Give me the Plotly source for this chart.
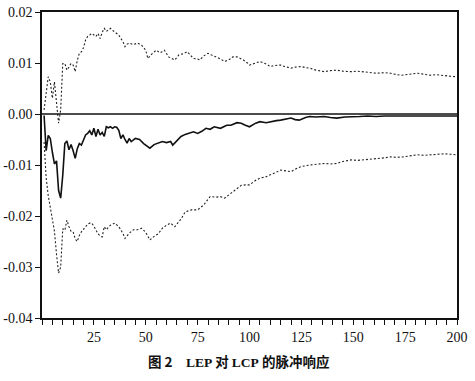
import plotly.graph_objects as go

# ---- data ----
upper_period = [1,2,3,4,5,6,7,8,9,10,11,12,13,14,15,16,17,18,19,20,21,22,23,24,25,26,27,28,29,30,
                31,32,33,34,35,36,37,38,39,40,41,42,44,46,48,50,51,53,55,57,59,61,63,64,66,68,70,72,73,75,
                76,78,80,82,84,86,88,90,92,94,96,97,99,100,103,105,108,110,112,115,117,120,122,125,127,129,
                132,136,139,142,145,149,152,155,158,161,165,168,171,173,177,181,184,187,190,194,197,200]
upper_value = [0.0008,0.0040,0.0073,0.0063,0.0031,0.0063,0.0027,-0.0018,0.0008,0.0099,0.0099,0.0086,0.0092,
               0.0099,0.0096,0.0083,0.0105,0.0119,0.0122,0.0130,0.0145,0.0152,0.0155,0.0158,0.0155,0.0152,
               0.0158,0.0148,0.0160,0.0168,0.0162,0.0165,0.0168,0.0164,0.0161,0.0158,0.0155,0.0148,0.0142,
               0.0132,0.0137,0.0139,0.0136,0.0139,0.0135,0.0125,0.0109,0.0118,0.0125,0.0120,0.0125,0.0112,
               0.0108,0.0106,0.0116,0.0118,0.0122,0.0112,0.0109,0.0108,0.0106,0.0114,0.0119,0.0115,0.0112,
               0.0108,0.0103,0.0106,0.0112,0.0112,0.0108,0.0106,0.0100,0.0096,0.0100,0.0103,0.0098,0.0093,
               0.0095,0.0096,0.0093,0.0090,0.0092,0.0093,0.0091,0.0090,0.0086,0.0083,0.0085,0.0086,0.0084,
               0.0083,0.0084,0.0083,0.0081,0.0080,0.0081,0.0080,0.0077,0.0076,0.0078,0.0080,0.0078,0.0076,
               0.0077,0.0076,0.0074,0.0073]

resp_period = [1,2,3,4,5,6,7,8,9,10,11,12,13,14,15,16,17,18,19,20,21,22,23,24,25,26,27,28,29,30,
               31,32,33,34,35,36,37,38,39,40,41,42,43,45,47,49,51,52,54,56,58,60,62,63,65,67,69,71,73,75,
               77,79,81,83,86,89,91,94,96,98,100,103,105,108,110,113,115,118,120,122,124,127,129,132,136,
               139,142,146,149,153,157,161,165,170,175,180,185,190,195,200]
resp_value = [-0.0003,-0.0072,-0.0042,-0.0048,-0.0075,-0.0098,-0.0092,-0.0150,-0.0165,-0.0120,-0.0058,
              -0.0053,-0.0070,-0.0060,-0.0072,-0.0087,-0.0068,-0.0058,-0.0061,-0.0050,-0.0041,-0.0038,
              -0.0033,-0.0041,-0.0028,-0.0044,-0.0030,-0.0041,-0.0036,-0.0044,-0.0025,-0.0027,-0.0025,
              -0.0028,-0.0025,-0.0026,-0.0032,-0.0048,-0.0041,-0.0050,-0.0057,-0.0048,-0.0054,-0.0048,
              -0.0050,-0.0058,-0.0064,-0.0067,-0.0060,-0.0057,-0.0054,-0.0056,-0.0054,-0.0061,-0.0052,
              -0.0044,-0.0040,-0.0038,-0.0035,-0.0038,-0.0034,-0.0028,-0.0030,-0.0025,-0.0028,-0.0022,
              -0.0022,-0.0017,-0.0018,-0.0022,-0.0025,-0.0018,-0.0015,-0.0017,-0.0015,-0.0013,-0.0012,
              -0.0010,-0.0008,-0.0011,-0.0012,-0.0007,-0.0005,-0.0006,-0.0005,-0.0007,-0.0008,-0.0006,
              -0.0005,-0.0005,-0.0004,-0.0005,-0.0004,-0.0004,-0.0003,-0.0004,-0.0003,-0.0004,-0.0003,
              -0.0004]

lower_period = [1,2,3,4,5,6,7,8,9,10,11,12,13,14,15,16,17,18,19,20,21,22,23,24,25,26,27,28,29,30,
                31,32,33,35,37,39,40,42,44,46,48,50,52,54,56,58,60,62,64,67,69,72,75,78,81,84,86,88,91,93,
                96,98,100,103,105,108,110,113,115,118,120,123,125,129,132,136,139,142,145,149,152,155,158,
                161,165,168,171,174,178,181,184,187,190,194,197,200]
lower_value = [-0.0055,-0.0125,-0.0160,-0.0182,-0.0200,-0.0230,-0.0275,-0.0312,-0.0300,-0.0225,-0.0228,
               -0.0208,-0.0221,-0.0230,-0.0231,-0.0245,-0.0250,-0.0238,-0.0231,-0.0226,-0.0221,-0.0216,
               -0.0214,-0.0214,-0.0220,-0.0227,-0.0235,-0.0239,-0.0241,-0.0221,-0.0227,-0.0222,-0.0218,
               -0.0214,-0.0221,-0.0234,-0.0244,-0.0234,-0.0227,-0.0227,-0.0224,-0.0232,-0.0247,-0.0240,
               -0.0235,-0.0224,-0.0218,-0.0214,-0.0221,-0.0206,-0.0192,-0.0188,-0.0188,-0.0178,-0.0162,
               -0.0163,-0.0162,-0.0165,-0.0156,-0.0150,-0.0140,-0.0139,-0.0139,-0.0130,-0.0126,-0.0123,
               -0.0120,-0.0114,-0.0110,-0.0112,-0.0113,-0.0106,-0.0103,-0.0100,-0.0099,-0.0097,-0.0098,
               -0.0097,-0.0093,-0.0090,-0.0091,-0.0090,-0.0089,-0.0087,-0.0086,-0.0084,-0.0085,-0.0084,
               -0.0082,-0.0080,-0.0081,-0.0080,-0.0079,-0.0078,-0.0079,-0.0080]

x_tick_values = list(range(0, 201, 5))
x_tick_labels = [str(v) if (v % 25 == 0 and v > 0) else "" for v in x_tick_values]
y_tick_values = [0.02, 0.01, 0.0, -0.01, -0.02, -0.03, -0.04]
y_tick_labels = ["0.02", "0.01", "0.00", "-0.01", "-0.02", "-0.03", "-0.04"]
caption = ("<b>图 2</b>\u3000<span style=\"font-family:'Liberation Serif'\"><b>LEP</b></span>"
           " <b>对</b> <span style=\"font-family:'Liberation Serif'\"><b>LCP</b></span> <b>的脉冲响应</b>")

fig = go.Figure()
fig.add_trace(go.Scatter(x=upper_period, y=upper_value, mode="lines",
                         line=dict(color="#222", width=1.1, dash="2px,2px")))
fig.add_trace(go.Scatter(x=lower_period, y=lower_value, mode="lines",
                         line=dict(color="#222", width=1.1, dash="2px,2px")))
fig.add_trace(go.Scatter(x=resp_period, y=resp_value, mode="lines",
                         line=dict(color="#111", width=1.6)))

fig.add_shape(type="line", xref="x", yref="y", x0=0, x1=200, y0=0, y1=0,
              line=dict(color="#111", width=1.6))

fig.update_layout(
    width=475, height=381,
    margin=dict(l=42, r=18, t=12, b=63),
    paper_bgcolor="white", plot_bgcolor="white",
    showlegend=False,
    font=dict(family="Liberation Serif", size=13, color="#111"),
    xaxis=dict(range=[0, 200], tickmode="array", tickvals=x_tick_values, ticktext=x_tick_labels,
               ticks="outside", ticklen=5, tickwidth=1.2, tickcolor="#111", automargin=False,
               showline=True, linecolor="#111", linewidth=1.6, mirror=True,
               showgrid=False, zeroline=False, tickfont=dict(size=14)),
    yaxis=dict(range=[-0.04, 0.02], tickmode="array", tickvals=y_tick_values, ticktext=y_tick_labels,
               ticks="outside", ticklen=5, tickwidth=1.2, tickcolor="#111", automargin=False,
               showline=True, linecolor="#111", linewidth=1.6, mirror=True,
               showgrid=False, zeroline=False, tickfont=dict(size=14)),
    annotations=[dict(text=caption, xref="paper", yref="paper", x=0.473, y=-0.142,
                      xanchor="center", yanchor="middle", showarrow=False,
                      font=dict(family="Noto Sans CJK SC", size=13.5, color="#111"))],
)

fig.write_html("out.html", config={"displayModeBar": False},
               post_script="document.body.style.margin='0';document.body.style.padding='0';")
